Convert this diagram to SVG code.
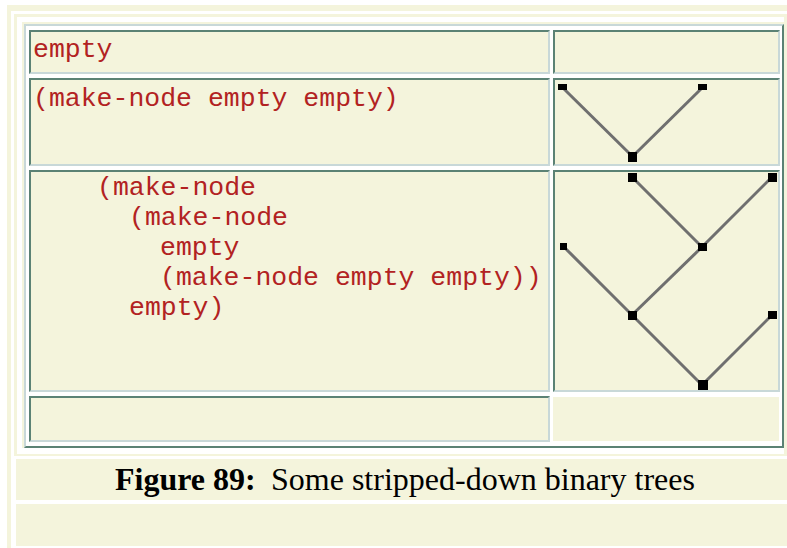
<svg xmlns="http://www.w3.org/2000/svg" width="787" height="548" viewBox="0 0 787 548">
<style>
.bg{fill:#f4f4dc}
.wh{fill:#ffffff}
.dk{fill:#5b8274}
.lt{fill:#c8d8d8}
.code{font-family:"Liberation Mono","Courier New",monospace;font-size:26.5px;fill:#b22222}
.cap{font-family:"Liberation Serif","Times New Roman",serif;font-size:32px;fill:#000}
.edge{stroke:#6f6f6f;stroke-width:3;fill:none;stroke-linecap:butt}
.nd{fill:#000}
</style>
<rect x="0" y="0" width="787" height="548" class="wh"/>
<g id="frame">
<rect x="7" y="5" width="780" height="543" class="bg"/>
<rect x="11" y="11" width="776" height="537" class="wh"/>
<rect x="14" y="14" width="773" height="442" class="bg"/>
<rect x="17" y="17" width="767" height="437" class="wh"/>
<rect x="22" y="22" width="762" height="426" class="bg"/>
<rect x="24" y="24" width="760" height="424" class="dk"/>
<polygon points="24,24 784,24 782,26 26,26 26,446 24,448" class="lt"/>
<rect x="26" y="26" width="756" height="420" class="wh"/>
</g>
<g id="cell-r1-left">
<rect x="29" y="30" width="521" height="44" class="lt"/>
<polygon points="29,30 550,30 548,32 31,32 31,72 29,74" class="dk"/>
<rect x="31" y="32" width="517" height="40" class="bg"/>
<text x="33" y="57" class="code">empty</text>
</g>
<g id="cell-r1-right">
<rect x="553" y="30" width="227" height="44" class="lt"/>
<polygon points="553,30 780,30 778,32 555,32 555,72 553,74" class="dk"/>
<rect x="555" y="32" width="223" height="40" class="bg"/>
</g>
<g id="cell-r2-left">
<rect x="29" y="78" width="521" height="88" class="lt"/>
<polygon points="29,78 550,78 548,80 31,80 31,164 29,166" class="dk"/>
<rect x="31" y="80" width="517" height="84" class="bg"/>
<text x="33" y="106" class="code">(make-node empty empty)</text>
</g>
<g id="cell-r2-right">
<rect x="553" y="78" width="227" height="88" class="lt"/>
<polygon points="553,78 780,78 778,80 555,80 555,164 553,166" class="dk"/>
<rect x="555" y="80" width="223" height="84" class="bg"/>
</g>
<g id="cell-r3-left">
<rect x="29" y="170" width="521" height="222" class="lt"/>
<polygon points="29,170 550,170 548,172 31,172 31,390 29,392" class="dk"/>
<rect x="31" y="172" width="517" height="218" class="bg"/>
<text class="code"><tspan x="97" y="195">(make-node</tspan><tspan x="129" y="225">(make-node</tspan><tspan x="160" y="255">empty</tspan><tspan x="160" y="285">(make-node empty empty))</tspan><tspan x="129" y="315">empty)</tspan></text>
</g>
<g id="cell-r3-right">
<rect x="553" y="170" width="227" height="222" class="lt"/>
<polygon points="553,170 780,170 778,172 555,172 555,390 553,392" class="dk"/>
<rect x="555" y="172" width="223" height="218" class="bg"/>
</g>
<g id="cell-r4-left">
<rect x="29" y="396" width="521" height="46" class="lt"/>
<polygon points="29,396 550,396 548,398 31,398 31,440 29,442" class="dk"/>
<rect x="31" y="398" width="517" height="42" class="bg"/>
</g>
<g id="cell-r4-right">
<rect x="553" y="397" width="226" height="44" class="bg"/>
</g>
<g id="connectors">
<line x1="563" y1="88" x2="632" y2="156" class="edge"/>
<line x1="702" y1="88" x2="633" y2="156" class="edge"/>
<line x1="632" y1="177" x2="702" y2="247" class="edge"/>
<line x1="772" y1="177" x2="702" y2="247" class="edge"/>
<line x1="563" y1="246" x2="632" y2="315" class="edge"/>
<line x1="702" y1="247" x2="632" y2="315" class="edge"/>
<line x1="632" y1="315" x2="702" y2="385" class="edge"/>
<line x1="772" y1="315" x2="702" y2="385" class="edge"/>
</g>
<g id="tree1-leaf-left"><rect x="558" y="84" width="9" height="6" class="nd"/></g>
<g id="tree1-leaf-right"><rect x="698" y="84" width="9" height="6" class="nd"/></g>
<g id="tree1-root"><rect x="628" y="152" width="9" height="10" class="nd"/></g>
<g id="tree2-leaf-a"><rect x="628" y="173" width="9" height="9" class="nd"/></g>
<g id="tree2-leaf-b"><rect x="768" y="173" width="9" height="9" class="nd"/></g>
<g id="tree2-inner-a"><rect x="698" y="243" width="9" height="8" class="nd"/></g>
<g id="tree2-leaf-c"><rect x="560" y="243" width="7" height="7" class="nd"/></g>
<g id="tree2-inner-b"><rect x="628" y="311" width="9" height="9" class="nd"/></g>
<g id="tree2-leaf-d"><rect x="768" y="311" width="9" height="8" class="nd"/></g>
<g id="tree2-root"><rect x="698" y="380" width="10" height="10" class="nd"/></g>
<g id="caption">
<rect x="16" y="459" width="771" height="41" class="bg"/>
<text x="115" y="490" class="cap"><tspan font-weight="bold">Figure 89:</tspan><tspan x="271">Some stripped-down binary trees</tspan></text>
</g>
<g id="footer">
<rect x="16" y="504" width="771" height="42" class="bg"/>
</g>
</svg>
